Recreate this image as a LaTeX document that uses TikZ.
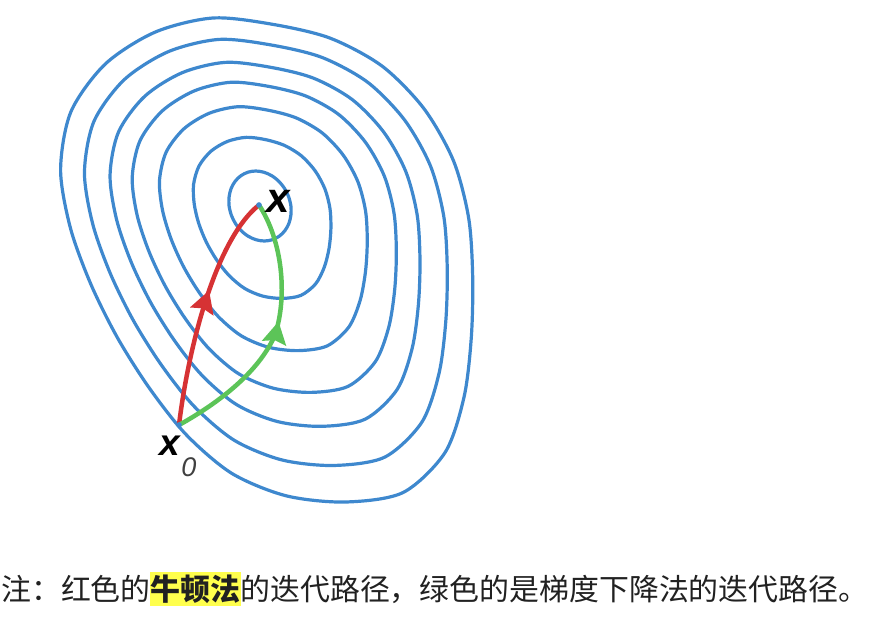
\documentclass[tikz,border=0pt]{standalone}
\usepackage{fontspec}
\newfontfamily\cjk{Noto Sans CJK SC}
\newfontfamily\lblfont{Liberation Sans}
\usetikzlibrary{calc,arrows.meta,decorations.markings}
\definecolor{lvlblue}{RGB}{62,136,206}
\definecolor{newtonred}{RGB}{214,50,52}
\definecolor{descentgreen}{RGB}{92,196,88}
\definecolor{hlyellow}{RGB}{255,255,77}
\tikzset{
  lvl/.style={draw=lvlblue, line width=3.2pt},
  path arrow/.style={decoration={markings, mark=at position #1 with {\arrow{Stealth[length=22pt,width=24pt,inset=3pt]}}}, postaction=decorate},
  newton/.style={draw=newtonred, line width=4.5pt, path arrow=0.58},
  descent/.style={draw=descentgreen, line width=4.5pt, path arrow=0.55},
  lbl/.style={inner sep=0pt, font=\lblfont\bfseries\itshape\fontsize{42}{42}\selectfont},
  sublbl/.style={inner sep=0pt, text=black!75, font=\lblfont\itshape\fontsize{27}{27}\selectfont},
  note/.style={inner sep=0pt, text=black!87, font=\cjk\fontsize{29.9}{30}\selectfont}
}
\begin{document}
\begin{tikzpicture}[x=1pt, y=-1pt, line join=round, line cap=round]
\useasboundingbox (0,0) rectangle (878,618);
% innermost and outermost level curve, the others lie between
\foreach \i/\p/\q in {0/{255.7,171}/{213,18}, 1/{263.8,172.2}/{272.5,24.3}, 2/{271.7,175.7}/{330,38.1},
    3/{278.8,181.3}/{382.1,66.1}, 4/{284.6,188.6}/{424,108.7}, 5/{288.7,197}/{453.5,160.8},
    6/{290.9,206}/{468.7,218.3}, 7/{290.9,215.1}/{472.7,277.7}, 8/{288.9,223.5}/{471.3,337.5},
    9/{284.8,230.8}/{464.1,396.7}, 10/{279.1,236.3}/{445.1,452.4}, 11/{272.1,239.8}/{403.1,492.5},
    12/{264.3,241}/{345.4,502}, 13/{256.2,239.8}/{286.2,495.8}, 14/{248.3,236.3}/{232,473.5},
    15/{241.2,230.7}/{186.6,435.1}, 16/{235.4,223.4}/{149.5,388.3}, 17/{231.3,215}/{117.5,337.8},
    18/{229.1,206}/{90.9,284.3}, 19/{229.1,196.9}/{70.5,228.3}, 20/{231.1,188.5}/{60.6,169.8},
    21/{235.2,181.2}/{70.9,111.8}, 22/{240.9,175.7}/{105.3,64}, 23/{247.9,172.2}/{155.2,32.1}}{
  \coordinate (in\i) at (\p);
  \coordinate (out\i) at (\q);
}
\foreach \t in {0,0.22,0.42,0.58,0.71,0.86,1}{
  \foreach \i in {0,...,23}
    \coordinate (c\i) at ($(in\i)!\t!(out\i)$);
  \draw[lvl] plot[smooth cycle] coordinates {(c0) (c1) (c2) (c3) (c4) (c5) (c6) (c7) (c8) (c9) (c10) (c11)
    (c12) (c13) (c14) (c15) (c16) (c17) (c18) (c19) (c20) (c21) (c22) (c23)};
}
% start point and minimum
\coordinate (x0) at (179,425);
\coordinate (xs) at (259,205);
\coordinate (gmid) at (275,335);
\draw[newton] (x0) .. controls (188,350) and (215,240) .. (xs);
\draw[descent] (x0) .. controls (215,405) and (258,374) .. (gmid) .. controls (288,295) and (282,240) .. (xs);
\fill[lvlblue] (x0) circle (2.8) (xs) circle (2.8);
\node[lbl] (xslbl) at (278,201) {x};
\node[lbl, font=\lblfont\bfseries\itshape\fontsize{37}{37}\selectfont] (x0lbl) at (170,446) {x};
\node[sublbl] (x0sub) at (189,467) {0};
% caption
\fill[hlyellow] (150,572) rectangle (241,606);
\node[note, anchor=base west] (caption) at (1,600) {注：红色的{\bfseries 牛顿法}的迭代路径，绿色的是梯度下降法的迭代路径。};
\end{tikzpicture}
\end{document}
